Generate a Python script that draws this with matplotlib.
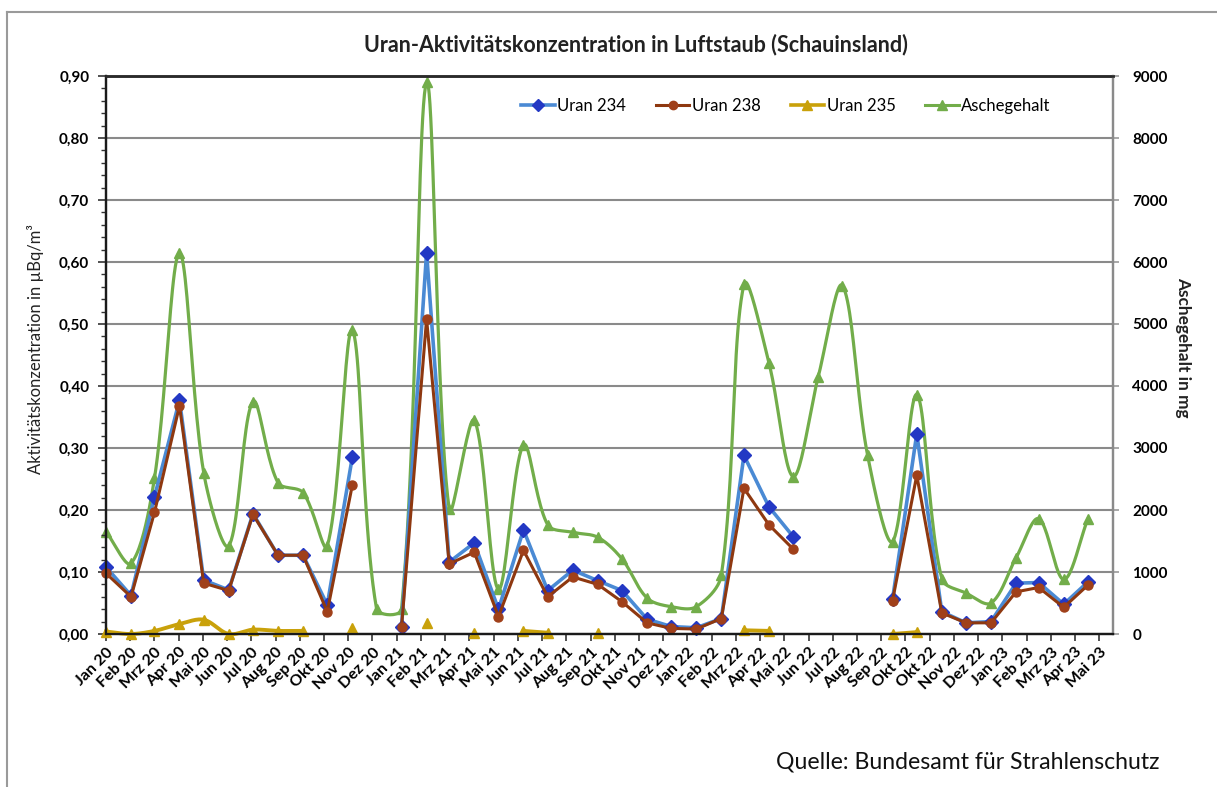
import numpy as np
import matplotlib
matplotlib.use("Agg")
import matplotlib.pyplot as plt
from matplotlib.lines import Line2D
from matplotlib.ticker import MultipleLocator, FuncFormatter

plt.rcParams["font.family"] = ["Lato", "DejaVu Sans"]

# monthly samples, Jan 2020 .. Mai 2023 (plotted mid-month on a date axis)
first_month = "2020-01"
last_month = "2023-05"

nan = np.nan
uran_234 = [0.108, 0.062, 0.221, 0.377, 0.087, 0.071, 0.194, 0.127, 0.127, 0.047, 0.285, nan,
            0.012, 0.615, 0.116, 0.147, 0.040, 0.168, 0.070, 0.103, 0.086, 0.070, 0.024, 0.012,
            0.010, 0.025, 0.288, 0.205, 0.157, nan, nan, nan, 0.056, 0.323, 0.036, 0.018,
            0.020, 0.082, 0.083, 0.048, 0.084]
uran_238 = [0.098, 0.060, 0.196, 0.368, 0.082, 0.070, 0.193, 0.127, 0.127, 0.036, 0.240, nan,
            0.012, 0.508, 0.113, 0.132, 0.028, 0.135, 0.060, 0.092, 0.080, 0.052, 0.018, 0.009,
            0.008, 0.025, 0.235, 0.176, 0.137, nan, nan, nan, 0.054, 0.256, 0.034, 0.018,
            0.018, 0.068, 0.075, 0.043, 0.079]
uran_235 = [0.004, 0.000, 0.005, 0.016, 0.023, 0.000, 0.007, 0.005, 0.005, nan, 0.009, nan,
            nan, 0.017, nan, 0.002, nan, 0.005, 0.002, nan, 0.001, nan, nan, nan,
            nan, nan, 0.006, 0.005, nan, nan, nan, nan, 0.000, 0.003, nan, nan,
            nan, nan, nan, nan, nan]
aschegehalt = [1650, 1140, 2510, 6140, 2600, 1420, 3750, 2440, 2280, 1420, 4900, 410,
               400, 8900, 2010, 3450, 720, 3050, 1760, 1640, 1560, 1210, 580, 440,
               440, 950, 5640, 4370, 2540, 4150, 5620, 2890, 1490, 3860, 890, 660,
               500, 1230, 1860, 880, 1860]

# Excel date axis: one tick every 30 days starting 15 Jan 2020
tick_labels = ["Jan 20", "Feb 20", "Mrz 20", "Apr 20", "Mai 20", "Jun 20", "Jul 20", "Aug 20",
               "Sep 20", "Okt 20", "Nov 20", "Dez 20", "Jan 21", "Feb 21", "Mrz 21", "Apr 21",
               "Mai 21", "Jun 21", "Jul 21", "Aug 21", "Sep 21", "Okt 21", "Nov 21", "Dez 21",
               "Jan 22", "Feb 22", "Mrz 22", "Apr 22", "Mai 22", "Jun 22", "Jul 22", "Aug 22",
               "Sep 22", "Okt 22", "Okt 22", "Nov 22", "Dez 22", "Jan 23", "Feb 23", "Mrz 23",
               "Apr 23", "Mai 23"]

start = np.datetime64("2020-01-15")
axis_end = np.datetime64("2023-06-15")
months = np.arange(np.datetime64(first_month), np.datetime64(last_month) + 1)
x = (months.astype("datetime64[D]") + 14 - start).astype(float)
xmax = float((axis_end - start).astype(int))

W, H = 1217, 787
ax_left, ax_right, ax_top, ax_bottom = 106, 1113, 76, 634


def smooth(xv, yv, ymax, steps=24):
    # Excel-like smoothed line: Bezier segments, tangents weighted by chord length
    yv = np.asarray(yv, dtype=float)
    kx = (ax_right - ax_left) / xmax
    ky = (ax_bottom - ax_top) / ymax
    ok = ~np.isnan(yv)
    out_x, out_y = [], []
    t = np.linspace(0, 1, steps)[:, None]
    i = 0
    n = len(yv)
    while i < n:
        if not ok[i]:
            i += 1
            continue
        j = i
        while j + 1 < n and ok[j + 1]:
            j += 1
        px = xv[i:j + 1] * kx
        py = yv[i:j + 1] * ky
        if len(px) > 1:
            ex = np.concatenate([[px[0]], px, [px[-1]]])
            ey = np.concatenate([[py[0]], py, [py[-1]]])
            P = np.column_stack([ex, ey])
            for k in range(len(px) - 1):
                p0, p1, p2, p3 = P[k], P[k + 1], P[k + 2], P[k + 3]
                d01 = np.hypot(*(p1 - p0))
                d12 = np.hypot(*(p2 - p1))
                d23 = np.hypot(*(p3 - p2))
                f1 = d12 / (d01 + d12) / 1.5 if d01 + d12 > 0 else 0
                f2 = d12 / (d12 + d23) / 1.5 if d12 + d23 > 0 else 0
                c1 = p1 + (p2 - p0) * f1 / 2
                c2 = p2 - (p3 - p1) * f2 / 2
                b = (1 - t) ** 3 * p1 + 3 * (1 - t) ** 2 * t * c1 + 3 * (1 - t) * t ** 2 * c2 + t ** 3 * p2
                out_x.extend(b[:, 0] / kx)
                out_y.extend(b[:, 1] / ky)
            out_x.append(nan)
            out_y.append(nan)
        i = j + 1
    return np.array(out_x), np.array(out_y)


c_234_line = "#4a8ad4"
c_234_mark = "#2338c4"
c_238_line = "#8e3810"
c_238_mark = "#a0401a"
c_235 = "#c9a10a"
c_asche = "#72ad4a"

fig = plt.figure(figsize=(W / 100, H / 100), dpi=100)
ax = fig.add_axes([ax_left / W, 1 - ax_bottom / H, (ax_right - ax_left) / W, (ax_bottom - ax_top) / H])
ax2 = ax.twinx()
ax.set_zorder(2)
ax2.set_zorder(1)
ax.patch.set_visible(False)
ax2.patch.set_visible(False)

# Aschegehalt on right axis (behind)
sx, sy = smooth(x, aschegehalt, 9000)
ax2.plot(sx, sy, color=c_asche, lw=2.3, solid_capstyle="round")
ax2.plot(x, aschegehalt, ls="none", marker="^", ms=7, color=c_asche, clip_on=False)

# Uran series on left axis
ax.plot(x, uran_234, color=c_234_line, lw=2.6, marker="D", ms=7,
        mfc=c_234_mark, mec=c_234_mark, clip_on=False)
ax.plot(x, uran_238, color=c_238_line, lw=2.2, marker="o", ms=6.5,
        mfc=c_238_mark, mec=c_238_mark, clip_on=False)
gx, gy = smooth(x, uran_235, 0.9)
ax.plot(gx, gy, color=c_235, lw=2.8, clip_on=False)
ax.plot(x, uran_235, ls="none", marker="^", ms=7, color=c_235, clip_on=False)

ax.set_xlim(0, xmax)
ax.set_ylim(0, 0.9)
ax2.set_ylim(0, 9000)

ax.yaxis.set_major_locator(MultipleLocator(0.1))
ax.yaxis.set_minor_locator(MultipleLocator(0.02))
ax.yaxis.set_major_formatter(FuncFormatter(lambda v, p: f"{v:.2f}".replace(".", ",")))
ax2.yaxis.set_major_locator(MultipleLocator(1000))
ax2.yaxis.set_major_formatter(FuncFormatter(lambda v, p: f"{v:.0f}"))

ax.set_xticks(np.arange(len(tick_labels)) * 30.0)
ax.set_xticklabels(tick_labels, rotation=45, ha="right", rotation_mode="anchor",
                   fontweight="bold", fontsize=11.5)

ax2.grid(axis="y", color="#8a8a8a", lw=1.5)
ax2.set_axisbelow(True)

ax.tick_params(axis="x", direction="out", length=5, width=1.2, pad=3, color="#333333")
ax.tick_params(axis="y", which="major", direction="out", length=6, width=1.2, labelsize=11, pad=6, color="#333333")
ax.tick_params(axis="y", which="minor", direction="out", length=3.5, width=1, color="#333333")
ax2.tick_params(axis="y", direction="out", length=4, width=1.2, labelsize=11, pad=10, color="#999999")
for lab in ax.get_yticklabels() + ax2.get_yticklabels():
    lab.set_fontweight("bold")

for a in (ax, ax2):
    a.spines["left"].set_color("#1a1a1a")
    a.spines["left"].set_linewidth(1.6)
    a.spines["bottom"].set_color("#1a1a1a")
    a.spines["bottom"].set_linewidth(1.6)
    a.spines["top"].set_color("#2a2a2a")
    a.spines["top"].set_linewidth(1.8)
    a.spines["right"].set_color("#8a8a8a")
    a.spines["right"].set_linewidth(1.6)

handles = [
    Line2D([], [], color=c_234_line, lw=2.6, marker="D", ms=6, mfc=c_234_mark, mec=c_234_mark),
    Line2D([], [], color=c_238_line, lw=2.2, marker="o", ms=6, mfc=c_238_mark, mec=c_238_mark),
    Line2D([], [], color=c_235, lw=2.6, marker="^", ms=6.5),
    Line2D([], [], color=c_asche, lw=2.2, marker="^", ms=6.5),
]
ax.legend(handles, ["Uran 234", "Uran 238", "Uran 235", "Aschegehalt"], ncol=4,
          loc="center", bbox_to_anchor=(786 / W, 1 - 106 / H), bbox_transform=fig.transFigure,
          frameon=False, fontsize=12, handlelength=2.0, handletextpad=0.15, columnspacing=1.8)

fig.text(636 / W, 1 - 45 / H, "Uran-Aktivitätskonzentration in Luftstaub (Schauinsland)",
         ha="center", va="center", fontsize=15.5, fontweight="bold", color="#222222")
fig.text(36 / W, 1 - 349 / H, "Aktivitätskonzentration in µBq/m³", rotation=90,
         ha="center", va="center", fontsize=12, color="#222222")
fig.text(1183 / W, 1 - 347 / H, "Aschegehalt in mg", rotation=270,
         ha="center", va="center", fontsize=12.4, fontweight="bold", color="#222222")
fig.text(1160 / W, 1 - 762 / H, "Quelle: Bundesamt für Strahlenschutz",
         ha="right", va="center", fontsize=16.6, color="#111111")

# outer chart frame (left and top edge visible in the source)
fig.add_artist(Line2D([7 / W, 7 / W], [0, 1 - 12 / H], color="#9a9a9a", lw=1.5))
fig.add_artist(Line2D([7 / W, 1], [1 - 12 / H, 1 - 12 / H], color="#9a9a9a", lw=1.5))

fig.savefig("out.png", dpi=100, facecolor="white")
